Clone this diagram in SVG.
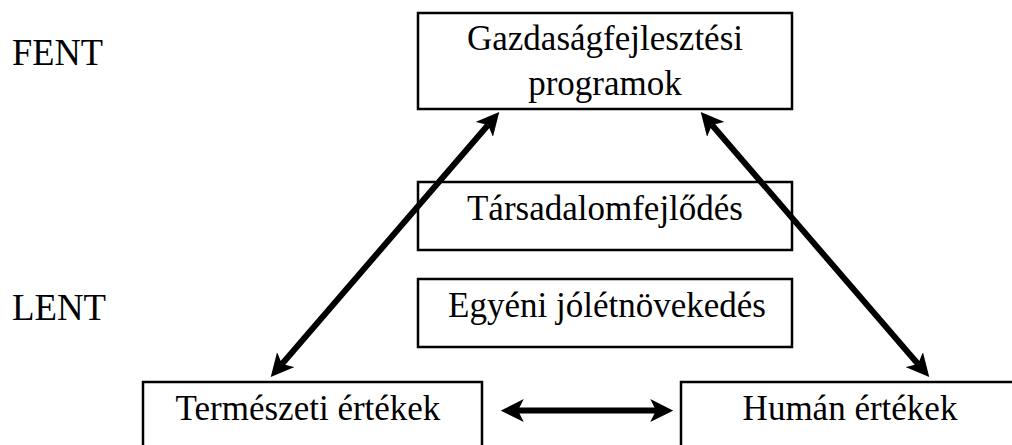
<svg xmlns="http://www.w3.org/2000/svg" width="1012" height="445" viewBox="0 0 1012 445">
<style>
.box{fill:#fff;stroke:#000;stroke-width:2.5}
.t{font-family:"Liberation Serif","Times New Roman",serif;font-size:35px;fill:#000;text-anchor:middle}
.side{font-family:"Liberation Serif","Times New Roman",serif;font-size:38px;fill:#000}
.conn{stroke:#000;stroke-width:6;fill:none;marker-start:url(#ah);marker-end:url(#ah)}
</style>
<defs>
<marker id="ah" viewBox="0 0 20 20" markerUnits="userSpaceOnUse" markerWidth="23" markerHeight="23" refX="5" refY="10" orient="auto-start-reverse">
<path d="M0,0 L20,10 L0,20 L5,10 z" fill="#000"/>
</marker>
</defs>
<rect width="1012" height="445" fill="#fff"/>
<text class="side" x="12" y="65" textLength="91" lengthAdjust="spacingAndGlyphs">FENT</text>
<text class="side" x="12" y="320" textLength="94" lengthAdjust="spacingAndGlyphs">LENT</text>
<g id="gazdasag">
<rect class="box" x="418" y="13" width="374" height="96"/>
<text class="t" x="605" y="50">Gazdaságfejlesztési</text>
<text class="t" x="605" y="95">programok</text>
</g>
<g id="tarsadalom">
<rect class="box" x="418" y="182" width="374" height="68"/>
<text class="t" x="605" y="220">Társadalomfejlődés</text>
</g>
<g id="egyeni">
<rect class="box" x="418" y="279" width="374" height="68"/>
<text class="t" x="607" y="317">Egyéni jólétnövekedés</text>
</g>
<g id="termeszeti">
<rect class="box" x="143" y="382" width="339" height="80"/>
<text class="t" x="308" y="420">Természeti értékek</text>
</g>
<g id="human">
<rect class="box" x="681" y="382" width="360" height="80"/>
<text class="t" x="850" y="420">Humán értékek</text>
</g>
<g id="connectors">
<line class="conn" x1="282" y1="364" x2="488" y2="125"/>
<line class="conn" x1="712" y1="125" x2="918" y2="364"/>
<line class="conn" x1="518" y1="410.5" x2="656" y2="410.5"/>
</g>
</svg>
